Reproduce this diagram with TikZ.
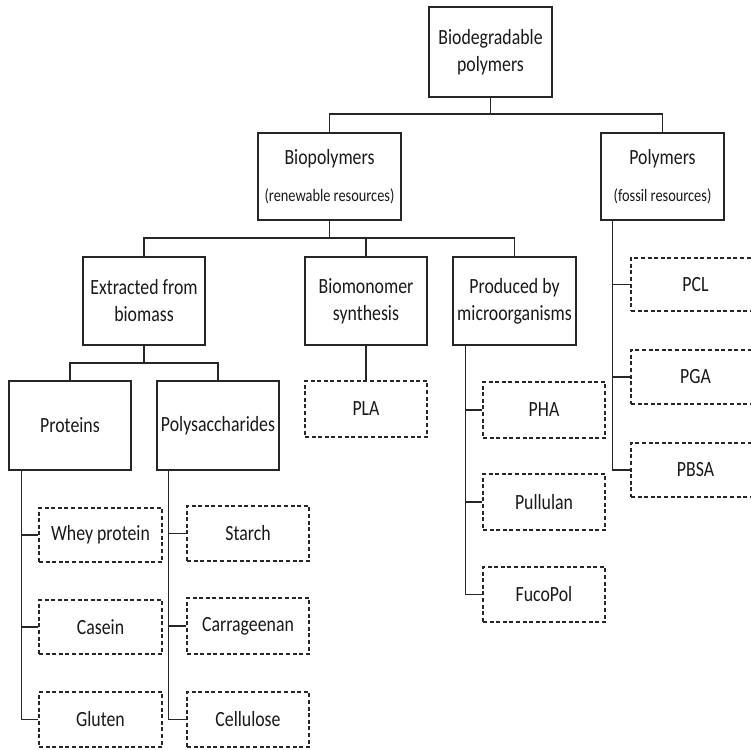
\documentclass[tikz,border=0pt]{standalone}
\usepackage{fontspec}
\setmainfont{Carlito}[FakeStretch=0.82]
\begin{document}
\begin{tikzpicture}[x=1pt,y=1pt,
  every node/.style={text=black!90},
  box/.style={draw=black!85, line width=1.2pt, rectangle, inner sep=0pt, align=center,
     font=\fontsize{21.7}{27}\selectfont},
  dbox/.style={box, dash pattern=on 4pt off 2.6pt},
  conn/.style={draw=black!85, line width=1.2pt}]
\useasboundingbox (0,0) rectangle (751,-749);
\begin{scope}
\clip (0,0) rectangle (751,-749);
% main boxes
\node[box, minimum width=123pt, minimum height=90pt] (root) at (490.5,-52) {Biodegradable\\polymers};
\node[box, minimum width=143pt, minimum height=87pt] (bio) at (329.5,-176.5) {Biopolymers\\[10pt]{\fontsize{17.5}{20}\selectfont (renewable resources)}};
\node[box, minimum width=123pt, minimum height=87pt] (fos) at (662.5,-176.5) {Polymers\\[10pt]{\fontsize{17.5}{20}\selectfont (fossil resources)}};
\node[box, minimum width=122pt, minimum height=88pt] (ext) at (144,-301) {Extracted from\\biomass};
\node[box, minimum width=122pt, minimum height=88pt] (mono) at (366,-301) {Biomonomer\\synthesis};
\node[box, minimum width=123pt, minimum height=88pt] (micro) at (514.5,-301) {Produced by\\microorganisms};
\node[box, minimum width=122pt, minimum height=89pt] (prot) at (70,-425.5) {Proteins};
\node[box, minimum width=122pt, minimum height=89pt] (poly) at (218,-425.5) {Polysaccharides};
% dashed boxes
\node[dbox, minimum width=122pt, minimum height=56pt] (pla) at (366,-409) {PLA};
\node[dbox, minimum width=123pt, minimum height=54pt] (whey) at (100.5,-535) {Whey protein};
\node[dbox, minimum width=123pt, minimum height=54pt] (casein) at (100.5,-627) {Casein};
\node[dbox, minimum width=123pt, minimum height=55pt] (gluten) at (100.5,-719.5) {Gluten};
\node[dbox, minimum width=122pt, minimum height=55pt] (starch) at (248,-533.5) {Starch};
\node[dbox, minimum width=122pt, minimum height=56pt] (carr) at (248,-626) {Carrageenan};
\node[dbox, minimum width=122pt, minimum height=55pt] (cell) at (248,-719.5) {Cellulose};
\node[dbox, minimum width=122pt, minimum height=56pt] (pha) at (544,-410) {PHA};
\node[dbox, minimum width=122pt, minimum height=56pt] (pull) at (544,-502) {Pullulan};
\node[dbox, minimum width=122pt, minimum height=55pt] (fuco) at (544,-594.5) {FucoPol};
\node[dbox, minimum width=129pt, minimum height=53pt] (pcl) at (695.5,-284.5) {PCL};
\node[dbox, minimum width=129pt, minimum height=54pt] (pga) at (695.5,-377) {PGA};
\node[dbox, minimum width=129pt, minimum height=54pt] (pbsa) at (695.5,-470) {PBSA};
% junctions
\coordinate (j1) at (490.5,-114);
\coordinate (j2) at (329.5,-238);
\coordinate (j3) at (144,-363);
\coordinate (bp) at ([xshift=13pt]prot.south west);
\coordinate (bs) at ([xshift=12pt]poly.south west);
\coordinate (bm) at ([xshift=13pt]micro.south west);
\coordinate (bf) at ([xshift=12pt]fos.south west);
% connectors
\draw[conn] (root.south) -- (j1);
\draw[conn] (bio.north) |- (j1) -| (fos.north);
\draw[conn] (bio.south) -- (j2);
\draw[conn] (ext.north) |- (j2) -| (micro.north);
\draw[conn] (mono.north) -- (mono.north |- j2);
\draw[conn] (ext.south) -- (j3);
\draw[conn] (prot.north) |- (j3) -| (poly.north);
\draw[conn] (mono.south) -- (pla.north);
\draw[conn] (bp) |- (gluten.west);
\draw[conn] (whey.west) -- (whey.west -| bp);
\draw[conn] (casein.west) -- (casein.west -| bp);
\draw[conn] (bs) |- (cell.west);
\draw[conn] (starch.west) -- (starch.west -| bs);
\draw[conn] (carr.west) -- (carr.west -| bs);
\draw[conn] (bm) |- (fuco.west);
\draw[conn] (pha.west) -- (pha.west -| bm);
\draw[conn] (pull.west) -- (pull.west -| bm);
\draw[conn] (bf) |- (pbsa.west);
\draw[conn] (pcl.west) -- (pcl.west -| bf);
\draw[conn] (pga.west) -- (pga.west -| bf);
\end{scope}
\end{tikzpicture}
\end{document}
